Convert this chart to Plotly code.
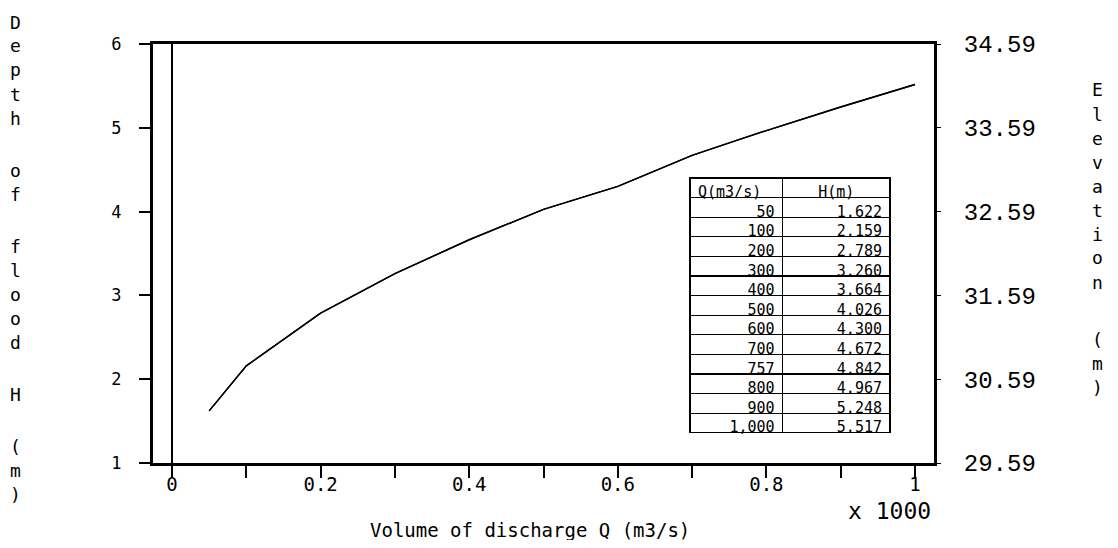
import plotly.graph_objects as go

# ---- data ----
Q_m3s = [50, 100, 200, 300, 400, 500, 600, 700, 757, 800, 900, 1000]
H_m = [1.622, 2.159, 2.789, 3.260, 3.664, 4.026, 4.300, 4.672, 4.842, 4.967, 5.248, 5.517]
ELEV_OFFSET = 28.59
x_ticks = [0, 0.1, 0.2, 0.3, 0.4, 0.5, 0.6, 0.7, 0.8, 0.9, 1.0]
x_ticktext = ["0", "", "0.2", "", "0.4", "", "0.6", "", "0.8", "", "1"]
y_ticks = [1, 2, 3, 4, 5, 6]
left_title = "Depth of flood H (m)"
right_title = "Elevation (m)"
x_title = "Volume of discharge Q (m3/s)"
x_scale = "x 1000"

OFF = 8  # page body margin
W, H = 1118 - 2 * OFF, 548 - 2 * OFF
PLOT_L, PLOT_R, PLOT_T, PLOT_B = 153, 934, 44, 463  # page pixels
L = PLOT_L - OFF
T = PLOT_T - OFF
PW, PH = PLOT_R - PLOT_L, PLOT_B - PLOT_T
R = W - L - PW
B = H - T - PH
MONO = "DejaVu Sans Mono"

def px_x(px):
    return (px - PLOT_L) / PW

def px_y(py):
    return (PLOT_B - py) / PH

x_vals = [q / 1000 for q in Q_m3s]
elev = [h + ELEV_OFFSET for h in H_m]

fig = go.Figure()
fig.add_trace(go.Scatter(x=x_vals, y=H_m, mode="lines",
                         line=dict(color="black", width=1.4),
                         showlegend=False, hoverinfo="skip"))
fig.add_trace(go.Scatter(x=x_vals, y=elev, mode="lines", yaxis="y2",
                         line=dict(color="black", width=1.4),
                         showlegend=False, hoverinfo="skip"))

fig.add_trace(go.Table(
    domain=dict(x=[px_x(690), px_x(891)], y=[px_y(434), px_y(178)]),
    columnwidth=[93, 108],
    header=dict(values=["Q(m3/s)", "H(m)"], align=["left", "center"],
                height=19.6, line=dict(color="black", width=1.2),
                fill=dict(color="white"),
                font=dict(family=MONO, size=15, color="black")),
    cells=dict(values=[Q_m3s, H_m], format=[",", ".3f"], align=["right", "right"],
               height=19.6, line=dict(color="black", width=1.2),
               fill=dict(color="white"),
               font=dict(family=MONO, size=15, color="black")),
))

annotations = []

def vertical_title(text, px, py0, step, extra, size):
    py = py0
    for ch in text:
        if ch == " ":
            py += extra
            continue
        annotations.append(dict(text=ch, x=px_x(px), y=px_y(py), xref="paper", yref="paper",
                                showarrow=False, xanchor="center", yanchor="middle",
                                borderpad=0,
                                font=dict(family=MONO, size=size, color="black")))
        py += step

vertical_title(left_title, 15, 22, 24, 28, 18)
vertical_title(right_title, 1097, 90, 24, 33, 18)

annotations.append(dict(text=x_title, x=px_x(530), y=px_y(530), xref="paper", yref="paper",
                        showarrow=False, xanchor="center", yanchor="middle",
                        font=dict(family=MONO, size=19, color="black")))
annotations.append(dict(text=x_scale, x=px_x(889), y=px_y(511), xref="paper", yref="paper",
                        showarrow=False, xanchor="center", yanchor="middle",
                        font=dict(family=MONO, size=23, color="black")))

fig.update_layout(
    width=W, height=H,
    margin=dict(l=L, r=R, t=T, b=B, autoexpand=False),
    paper_bgcolor="white", plot_bgcolor="white",
    showlegend=False,
    annotations=annotations,
    xaxis=dict(range=[-0.0256, 1.0256], tickmode="array", tickvals=x_ticks, ticktext=x_ticktext,
               ticks="outside", ticklen=12, tickwidth=2, tickcolor="black",
               showline=True, linewidth=3, linecolor="black", mirror=True,
               showgrid=False, zeroline=True, zerolinecolor="black", zerolinewidth=2,
               tickfont=dict(family=MONO, size=19, color="black"), ticklabelstandoff=-10),
    yaxis=dict(range=[1, 6], tickmode="array", tickvals=y_ticks,
               ticks="outside", ticklen=11, tickwidth=2, tickcolor="black",
               showline=True, linewidth=3, linecolor="black", mirror=True,
               showgrid=False, zeroline=False,
               tickfont=dict(family=MONO, size=17, color="black"), ticklabelstandoff=14),
    yaxis2=dict(range=[1 + ELEV_OFFSET, 6 + ELEV_OFFSET], overlaying="y", side="right",
                tick0=1 + ELEV_OFFSET, dtick=1, tickformat=".2f",
                ticks="outside", ticklen=6, tickwidth=1, tickcolor="black",
                showline=False, showgrid=False, zeroline=False,
                tickfont=dict(family="Liberation Mono", size=24, color="black"),
                ticklabelstandoff=18),
)

fig.write_html("out.html")
